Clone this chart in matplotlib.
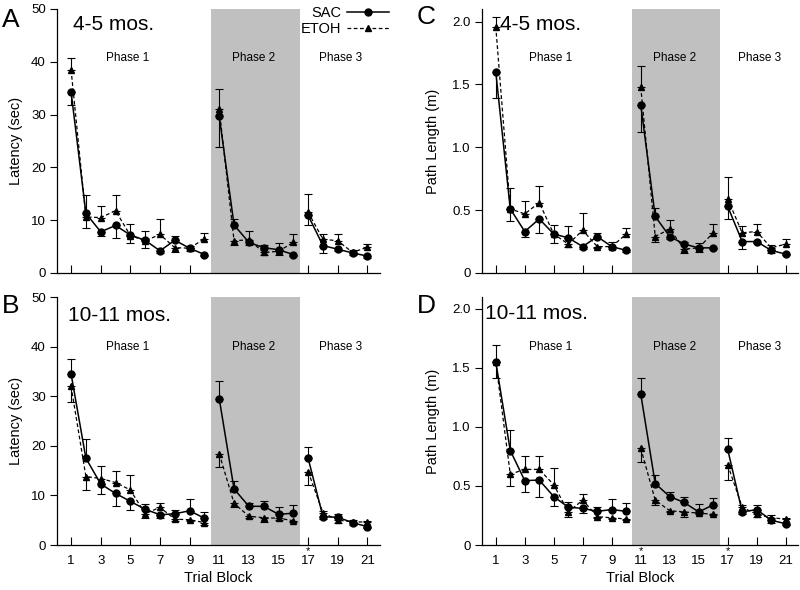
import matplotlib
matplotlib.use("Agg")
import matplotlib.pyplot as plt
from matplotlib.lines import Line2D
import numpy as np

plt.rcParams['font.family'] = ['Liberation Sans', 'DejaVu Sans']

trials = list(range(1, 22))
phase_bounds = [(1, 10), (11, 16), (17, 21)]
phase_names = ["Phase 1", "Phase 2", "Phase 3"]
xtick_labels = [str(t) for t in range(1, 22, 2)]

# Panel A: latency, 4-5 mos.
lat45_sac = [34.3, 11.3, 7.8, 9.0, 7.2, 6.2, 4.2, 6.2, 4.7, 3.5,
             29.7, 9.1, 5.8, 4.8, 4.4, 3.5,
             10.9, 5.2, 4.5, 3.8, 3.2]
lat45_sac_err = [2.5, 3.4, 0.8, 2.3, 2.1, 1.8, 0.4, 0.8, 0.5, 0.3,
                 5.9, 1.1, 0.5, 0.5, 1.2, 0.3,
                 1.8, 1.5, 0.4, 0.4, 0.3]
lat45_etoh = [38.5, 10.6, 10.5, 11.8, 7.1, 6.1, 7.3, 4.8, 4.7, 6.5,
              31.0, 6.1, 6.3, 3.9, 4.1, 5.8,
              11.5, 6.4, 6.1, 3.9, 4.9]
lat45_etoh_err = [2.2, 2.1, 2.1, 2.9, 1.5, 1.3, 2.9, 0.8, 0.5, 1.0,
                  3.8, 0.8, 1.6, 0.4, 0.6, 1.5,
                  3.5, 0.9, 1.3, 0.4, 0.6]

# Panel B: latency, 10-11 mos.
lat1011_sac = [34.5, 17.5, 12.3, 10.4, 8.8, 7.2, 6.1, 6.3, 6.9, 5.4,
               29.5, 11.3, 7.8, 7.8, 6.2, 6.4,
               17.5, 5.7, 5.6, 4.5, 3.7]
lat1011_sac_err = [3.1, 3.8, 2.0, 2.6, 1.8, 1.0, 0.7, 0.8, 2.3, 1.3,
                   3.6, 1.7, 0.6, 1.0, 1.5, 1.6,
                   2.3, 0.4, 0.7, 0.4, 0.3]
lat1011_etoh = [32.0, 13.8, 13.4, 12.6, 11.1, 6.3, 7.6, 5.2, 5.1, 4.5,
                18.4, 8.4, 5.8, 5.5, 5.4, 4.9,
                14.8, 6.5, 5.0, 4.7, 4.6]
lat1011_etoh_err = [3.2, 2.7, 2.6, 2.3, 3.1, 0.9, 0.9, 0.3, 0.3, 0.4,
                    2.6, 0.8, 0.3, 0.8, 0.3, 0.3,
                    2.8, 0.4, 0.6, 0.3, 0.3]

# Panel C: path length, 4-5 mos.
path45_sac = [1.60, 0.51, 0.33, 0.43, 0.31, 0.28, 0.21, 0.29, 0.21, 0.18,
              1.34, 0.45, 0.29, 0.23, 0.20, 0.20,
              0.53, 0.25, 0.25, 0.18, 0.15]
path45_sac_err = [0.21, 0.17, 0.04, 0.11, 0.07, 0.09, 0.02, 0.03, 0.04, 0.01,
                  0.22, 0.07, 0.02, 0.02, 0.035, 0.01,
                  0.10, 0.06, 0.01, 0.02, 0.01]
path45_etoh = [1.96, 0.51, 0.47, 0.56, 0.31, 0.23, 0.34, 0.21, 0.21, 0.31,
               1.48, 0.29, 0.35, 0.19, 0.20, 0.32,
               0.59, 0.32, 0.33, 0.20, 0.23]
path45_etoh_err = [0.08, 0.10, 0.10, 0.13, 0.07, 0.02, 0.14, 0.01, 0.02, 0.05,
                   0.17, 0.04, 0.07, 0.03, 0.035, 0.07,
                   0.17, 0.05, 0.06, 0.02, 0.04]

# Panel D: path length, 10-11 mos.
path1011_sac = [1.55, 0.80, 0.545, 0.55, 0.41, 0.32, 0.31, 0.285, 0.30, 0.285,
                1.28, 0.52, 0.41, 0.36, 0.28, 0.34,
                0.81, 0.28, 0.30, 0.21, 0.18]
path1011_sac_err = [0.14, 0.17, 0.095, 0.14, 0.08, 0.04, 0.04, 0.04, 0.09, 0.07,
                    0.13, 0.07, 0.04, 0.05, 0.07, 0.06,
                    0.10, 0.02, 0.04, 0.02, 0.01]
path1011_etoh = [1.55, 0.60, 0.64, 0.64, 0.51, 0.28, 0.38, 0.24, 0.23, 0.22,
                 0.82, 0.38, 0.29, 0.28, 0.27, 0.26,
                 0.68, 0.32, 0.26, 0.23, 0.22]
path1011_etoh_err = [0.14, 0.10, 0.11, 0.11, 0.14, 0.04, 0.05, 0.01, 0.01, 0.01,
                     0.12, 0.04, 0.01, 0.04, 0.01, 0.01,
                     0.13, 0.02, 0.02, 0.02, 0.01]

panels = [
    dict(letter="A", age="4-5 mos.", sac=lat45_sac, sac_err=lat45_sac_err,
         etoh=lat45_etoh, etoh_err=lat45_etoh_err, ylabel="Latency (sec)",
         ylim=(0, 50), yticks=[0, 10, 20, 30, 40, 50],
         yticklabels=["0", "10", "20", "30", "40", "50"],
         stars=[], bottom=False),
    dict(letter="B", age="10-11 mos.", sac=lat1011_sac, sac_err=lat1011_sac_err,
         etoh=lat1011_etoh, etoh_err=lat1011_etoh_err, ylabel="Latency (sec)",
         ylim=(0, 50), yticks=[0, 10, 20, 30, 40, 50],
         yticklabels=["0", "10", "20", "30", "40", "50"],
         stars=[17], bottom=True),
    dict(letter="C", age="4-5 mos.", sac=path45_sac, sac_err=path45_sac_err,
         etoh=path45_etoh, etoh_err=path45_etoh_err, ylabel="Path Length (m)",
         ylim=(0, 2.1), yticks=[0, 0.5, 1.0, 1.5, 2.0],
         yticklabels=["0", "0.5", "1.0", "1.5", "2.0"],
         stars=[], bottom=False),
    dict(letter="D", age="10-11 mos.", sac=path1011_sac, sac_err=path1011_sac_err,
         etoh=path1011_etoh, etoh_err=path1011_etoh_err, ylabel="Path Length (m)",
         ylim=(0, 2.1), yticks=[0, 0.5, 1.0, 1.5, 2.0],
         yticklabels=["0", "0.5", "1.0", "1.5", "2.0"],
         stars=[11, 17], bottom=True),
]

W, H = 800, 590
fig = plt.figure(figsize=(8, 5.9), dpi=100)

rects = {
    "A": [57 / W, 1 - 273 / H, 323 / W, 264 / H],
    "B": [57 / W, 1 - 545 / H, 323 / W, 248 / H],
    "C": [482 / W, 1 - 273 / H, 316 / W, 264 / H],
    "D": [482 / W, 1 - 545 / H, 316 / W, 248 / H],
}
age_pos = {"A": (0.05, 0.94), "B": (0.034, 0.927), "C": (0.057, 0.94), "D": (0.01, 0.935)}
letter_pos = {"A": (11, 20), "B": (11, 306), "C": (426, 17), "D": (426, 306)}
ylabel_x = {"A": -0.105, "B": -0.105, "C": -0.133, "D": -0.133}
phase_x = [4.8, 13.35, 19.2]

for p in panels:
    ax = fig.add_axes(rects[p["letter"]])
    ax.set_xlim(0.05, 21.85)
    ax.set_ylim(*p["ylim"])
    ax.axvspan(10.42, 16.47, color="#c0c0c0", lw=0, zorder=1)
    ax.set_axisbelow(True)

    sac = np.array(p["sac"])
    etoh = np.array(p["etoh"])
    sac_up = sac >= etoh
    x = np.array(trials)
    for (a, b) in phase_bounds:
        m = (x >= a) & (x <= b)
        ax.plot(x[m], etoh[m], color="black", lw=0.9, ls=(0, (3, 2)),
                marker="^", ms=4, zorder=3)
        ax.plot(x[m], sac[m], color="black", lw=1.1, ls="-",
                marker="o", ms=5, zorder=4)
    se = np.array(p["sac_err"])
    ee = np.array(p["etoh_err"])
    ax.errorbar(x, sac, yerr=[np.where(sac_up, 0, se), np.where(sac_up, se, 0)],
                fmt="none", ecolor="black", elinewidth=0.8, capsize=3,
                capthick=0.8, zorder=2)
    ax.errorbar(x, etoh, yerr=[np.where(sac_up, ee, 0), np.where(sac_up, 0, ee)],
                fmt="none", ecolor="black", elinewidth=0.8, capsize=3,
                capthick=0.8, zorder=2)

    for sp in ["top", "right"]:
        ax.spines[sp].set_visible(False)
    for sp in ["left", "bottom"]:
        ax.spines[sp].set_linewidth(0.9)

    ax.set_yticks(p["yticks"])
    ax.set_yticklabels(p["yticklabels"], fontsize=9.5)
    ax.tick_params(axis="y", direction="out", length=5, width=0.8, pad=3)
    ax.set_xticks(list(range(1, 22, 2)))
    if p["bottom"]:
        ax.set_xticklabels(xtick_labels, fontsize=9.5)
        ax.set_xlabel("Trial Block", fontsize=10.5)
        ax.xaxis.set_label_coords(0.5, -0.105)
    else:
        ax.set_xticklabels([])
    ax.tick_params(axis="x", direction="in", length=6, width=0.8, pad=7.5)

    ax.set_ylabel(p["ylabel"], fontsize=10.5)
    ax.yaxis.set_label_coords(ylabel_x[p["letter"]], 0.5)

    yfrac = 0.815 if not p["bottom"] else 0.80
    for name, px in zip(phase_names, phase_x):
        ax.text(px, yfrac, name, transform=ax.get_xaxis_transform(),
                ha="center", va="center", fontsize=8.5)

    ax.text(age_pos[p["letter"]][0], age_pos[p["letter"]][1], p["age"],
            transform=ax.transAxes, ha="left", va="center", fontsize=15)

    for s in p["stars"]:
        ax.text(s, -0.006, "*", transform=ax.get_xaxis_transform(),
                ha="center", va="top", fontsize=8)

    lx, ly = letter_pos[p["letter"]]
    fig.text(lx / W, 1 - ly / H, p["letter"], ha="center", va="center",
             fontsize=19)

    if p["letter"] == "A":
        handles = [Line2D([], [], color="black", lw=1.1, marker="o", ms=5),
                   Line2D([], [], color="black", lw=0.9, ls=(0, (3, 2)),
                          marker="^", ms=4)]
        ax.legend(handles, ["SAC", "ETOH"], loc="upper right",
                  bbox_to_anchor=(389 / W, 1 - 6 / H),
                  bbox_transform=fig.transFigure, frameon=False,
                  markerfirst=False, handlelength=2.9, handletextpad=0.4,
                  labelspacing=0.15, borderpad=0, borderaxespad=0,
                  fontsize=10.5)

fig.savefig("out.png", dpi=100)
